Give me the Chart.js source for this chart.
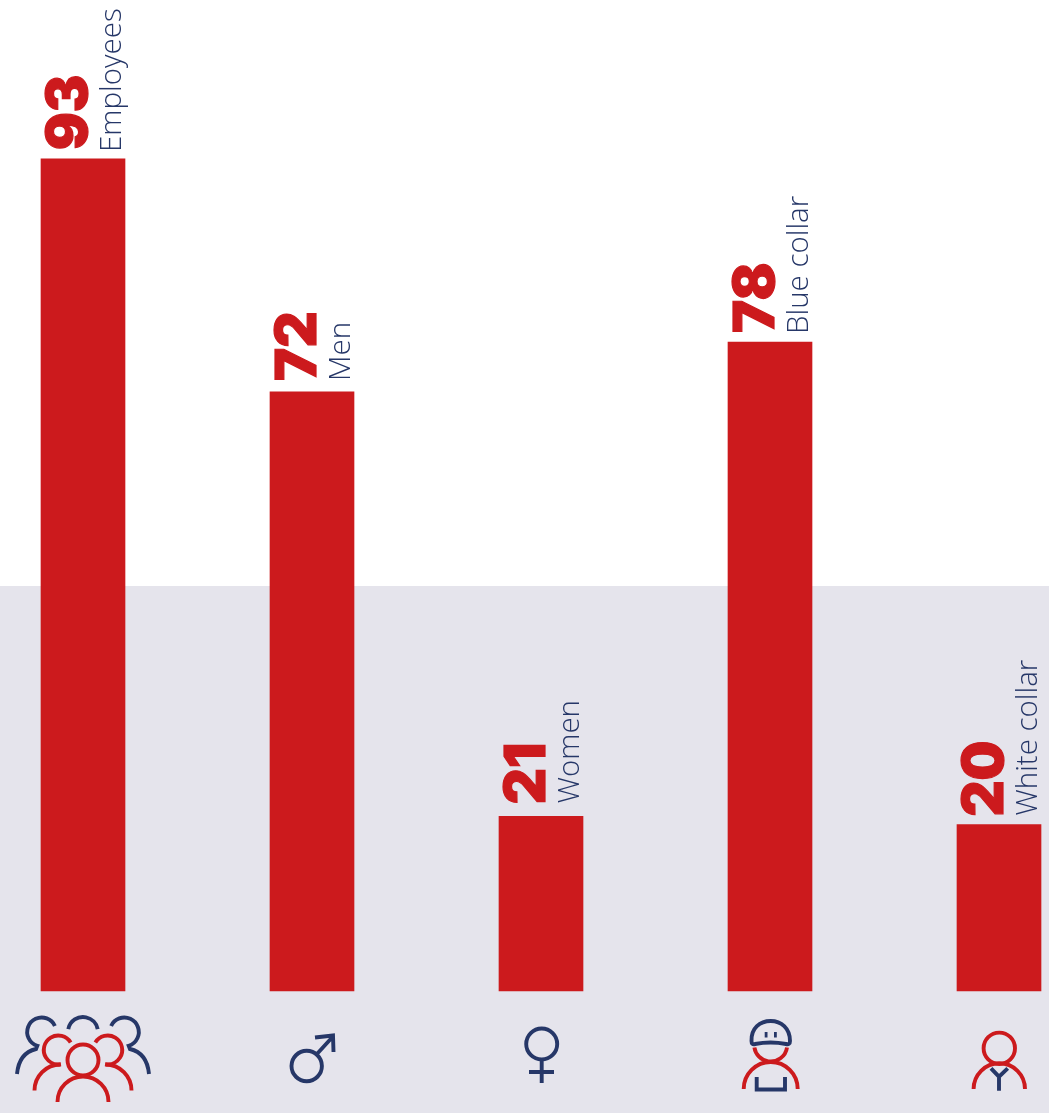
<!DOCTYPE html>
<html>
<head>
<meta charset="utf-8">
<title>Employees</title>
<script src="https://cdn.jsdelivr.net/npm/chart.js@4"></script>
<style>
  html, body { margin: 0; padding: 0; background: #fff; overflow: hidden; }
  canvas { display: block; }
</style>
</head>
<body>
<canvas id="chartCanvas" width="1049" height="1113"></canvas>
<script>
const categories = ['Employees', 'Men', 'Women', 'Blue collar', 'White collar'];
// bar heights as drawn: the first bar is cut to 100 on the picture's scale though it reads 93
const barHeights = [100, 72, 21, 78, 20];
const shownValues = ['93', '72', '21', '78', '20'];
const iconNames = ['group', 'male', 'female', 'blueCollar', 'whiteCollar'];
const bandStart = 48.68;
const axisMax = 119.1;

const RED = '#cc1a1d';
const NAVY = '#263768';
const BAND = '#e5e4ec';

// gap in px between bar top and the rotated texts
const valueGaps = [9, 11, 12, 9, 8];
const nameGaps = [7, 11, 13, 8, 9];

function stroke(c, color, draw) {
    c.strokeStyle = color;
    c.lineWidth = 3.9;
    c.lineCap = 'butt';
    c.lineJoin = 'miter';
    c.beginPath();
    draw(c);
    c.stroke();
}

// icons are drawn with x relative to the bar centre
const icons = {
    group(c) {
        for (const s of [1, -1]) {
            c.save();
            c.scale(s, 1);
            stroke(c, NAVY, () => {
                c.arc(-41.3, 1032, 14.5, -0.43, 1.88, true);
                c.lineTo(-47, 1049);
                c.quadraticCurveTo(-64, 1053, -66, 1074);
            });
            stroke(c, RED, () => {
                c.arc(-24.7, 1050, 14.5, -0.55, 1.39, true);
            });
            stroke(c, RED, () => {
                c.arc(-22.5, 1090.5, 26, -Math.PI / 2, Math.PI, true);
            });
            c.restore();
        }
        stroke(c, NAVY, () => { c.arc(0, 1032, 15, Math.PI + 0.2, -0.2); });
        stroke(c, RED, () => { c.arc(0, 1060, 15.5, 0, Math.PI * 2); });
        stroke(c, RED, () => { c.arc(0, 1102, 25.5, Math.PI, 0); });
    },
    male(c) {
        stroke(c, NAVY, () => {
            c.arc(-5.3, 1066, 15.2, 0, Math.PI * 2);
            c.moveTo(4, 1055);
            c.lineTo(20.5, 1037);
            c.moveTo(3, 1037.5);
            c.lineTo(21, 1035.5);
            c.lineTo(21.5, 1052);
        });
    },
    female(c) {
        stroke(c, NAVY, () => {
            c.arc(0.7, 1044, 15.5, 0, Math.PI * 2);
            c.moveTo(0.7, 1060);
            c.lineTo(0.7, 1083);
            c.moveTo(-12, 1072);
            c.lineTo(13, 1072);
        });
    },
    blueCollar(c) {
        stroke(c, RED, () => { c.arc(0.7, 1045, 16.5, 0.15, Math.PI - 0.15); });
        stroke(c, RED, () => { c.arc(0.7, 1089, 27, Math.PI, 0); });
        stroke(c, NAVY, () => {
            c.moveTo(-18.5, 1041);
            c.bezierCurveTo(-19, 1028, -10, 1021, 0.7, 1021);
            c.bezierCurveTo(11, 1021, 20, 1028, 20, 1041);
            c.quadraticCurveTo(20, 1045, 16, 1044);
            c.quadraticCurveTo(0.7, 1041, -15, 1044);
            c.quadraticCurveTo(-18.5, 1045, -18.5, 1041);
            c.closePath();
            c.moveTo(-13.3, 1077);
            c.lineTo(-13.3, 1089.5);
            c.lineTo(15, 1089.5);
            c.lineTo(15, 1077);
        });
        c.fillStyle = NAVY;
        c.fillRect(-5.3, 1032, 2.8, 5.5);
        c.fillRect(4, 1032, 2.8, 5.5);
    },
    whiteCollar(c) {
        stroke(c, NAVY, () => {
            c.moveTo(-8, 1068.3);
            c.lineTo(0, 1076.7);
            c.lineTo(8.7, 1068.3);
            c.moveTo(0, 1076);
            c.lineTo(0, 1090.7);
        });
        stroke(c, RED, () => { c.arc(0.3, 1048.3, 15.7, 0, Math.PI * 2); });
        stroke(c, RED, () => { c.arc(0.3, 1089, 25.7, Math.PI, 0); });
    }
};

const bandPlugin = {
    id: 'band',
    beforeDraw(chart) {
        const c = chart.ctx;
        const top = Math.round(chart.scales.y.getPixelForValue(bandStart));
        c.save();
        c.fillStyle = BAND;
        c.fillRect(0, top, chart.width, chart.height - top);
        c.restore();
    }
};

const labelPlugin = {
    id: 'barLabels',
    afterDatasetsDraw(chart) {
        const c = chart.ctx;
        chart.getDatasetMeta(0).data.forEach((bar, i) => {
            const left = bar.x - 42;
            c.save();
            c.textBaseline = 'alphabetic';
            c.textAlign = 'left';

            c.save();
            c.translate(left + 46, bar.y - valueGaps[i]);
            c.rotate(-Math.PI / 2);
            c.fillStyle = RED;
            c.strokeStyle = RED;
            c.lineWidth = 1.2;
            c.font = '900 56px Inter';
            c.fillText(shownValues[i], 0, 0);
            c.strokeText(shownValues[i], 0, 0);
            c.restore();

            c.save();
            c.translate(left + 80, bar.y - nameGaps[i]);
            c.rotate(-Math.PI / 2);
            c.fillStyle = NAVY;
            c.font = '300 29.5px "Open Sans"';
            c.fillText(categories[i], 0, 0);
            c.restore();

            c.translate(bar.x, 0);
            icons[iconNames[i]](c);
            c.restore();
        });
    }
};

new Chart(document.getElementById('chartCanvas'), {
    type: 'bar',
    data: {
        labels: categories,
        datasets: [{
            data: barHeights,
            backgroundColor: RED,
            barThickness: 84,
            clip: false
        }]
    },
    options: {
        responsive: false,
        animation: false,
        layout: { padding: { left: 83, right: 50, top: 0, bottom: 122 } },
        plugins: { legend: { display: false }, tooltip: { enabled: false } },
        scales: {
            x: { display: false, offset: false, grid: { display: false } },
            y: { display: false, min: 0, max: axisMax, grid: { display: false } }
        }
    },
    plugins: [bandPlugin, labelPlugin]
});
</script>
</body>
</html>
